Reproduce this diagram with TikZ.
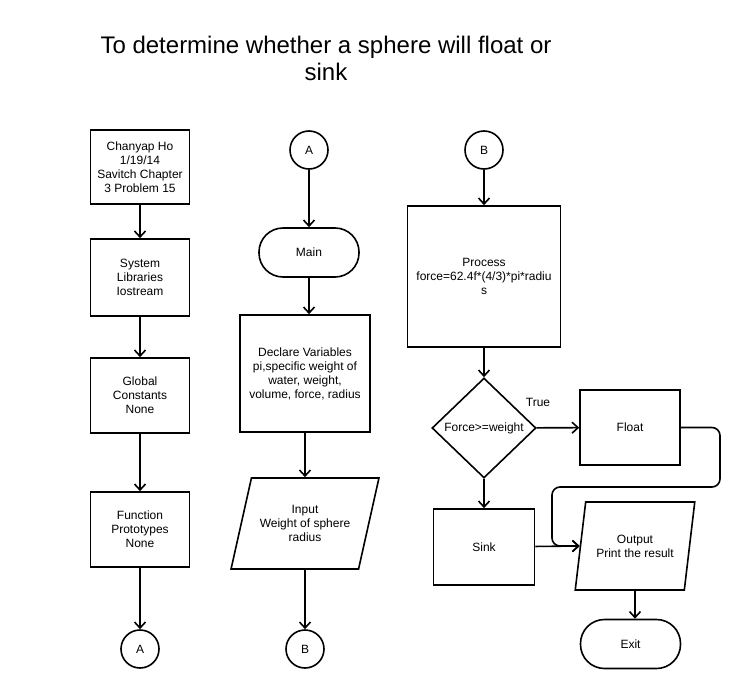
\documentclass[tikz,border=0pt]{standalone}
\usepackage{fontspec}
\setmainfont{Liberation Sans}
\usetikzlibrary{shapes.geometric,arrows.meta}
\tikzset{
  box/.style={draw, line width=1.6pt, align=center, inner sep=2pt,
    font=\fontsize{12}{14}\selectfont},
  proc/.style={box, minimum width=#1},
  term/.style={box, rounded corners=24pt, minimum width=100pt, minimum height=49pt},
  conn/.style={box, circle, minimum size=38pt, inner sep=0pt},
  io/.style={box, trapezium, trapezium stretches=true},
  decision/.style={box, diamond, minimum width=104pt, minimum height=100pt, inner sep=1pt},
  line/.style={line width=1.6pt, -{Straight Barb[length=6pt,width=11pt]},
    every edge/.append style={line width=1.6pt}}
}
\begin{document}
\begin{tikzpicture}[x=1pt, y=-1pt]
\useasboundingbox (0,0) rectangle (744,690);
\node[align=center, font=\fontsize{24}{27}\selectfont] at (326,58) (title)
  {To determine whether a sphere will float or\\sink};
% left column
\node[proc=99pt, minimum height=74pt] at (140,167) (head)
  {Chanyap Ho\\1/19/14\\Savitch Chapter\\3 Problem 15};
\node[proc=99pt, minimum height=77pt] at (140,277.5) (libs) {System\\Libraries\\Iostream};
\node[proc=99pt, minimum height=75pt] at (140,395.5) (glob) {Global\\Constants\\None};
\node[proc=99pt, minimum height=75pt] at (140,529.5) (func) {Function\\Prototypes\\None};
\node[conn] at (140,649) (outa) {A};
% middle column
\node[conn] at (309,150) (ina) {A};
\node[term] at (309,252.5) (main) {Main};
\node[proc=130pt, minimum height=117pt] at (305,373.5) (decl)
  {Declare Variables\\pi,specific weight of\\water, weight,\\volume, force, radius};
\node[io, minimum width=148pt, minimum height=91pt,
  trapezium left angle=66, trapezium right angle=114] at (305,523.5) (inp)
  {Input\\Weight of sphere\\radius};
\node[conn] at (305,649) (outb) {B};
% right column
\node[conn] at (484,150) (inb) {B};
\node[proc=153pt, minimum height=141pt] at (484,276.5) (calc)
  {Process\\force=62.4f*(4/3)*pi*radiu\\s};
\node[decision] at (484,428) (test) {Force>=weight};
\node[font=\fontsize{12}{14}\selectfont] at (538,402) (true) {True};
\node[proc=100pt, minimum height=75pt] at (630,427.5) (flt) {Float};
\node[proc=101pt, minimum height=76pt] at (484,547) (snk) {Sink};
\node[io, minimum width=120pt, minimum height=88pt,
  trapezium left angle=72, trapezium right angle=108] at (635,546) (outp)
  {Output\\Print the result};
\node[term] at (630.5,644) (exit) {Exit};
\coordinate (r1) at (720,487);
\coordinate (r2) at (552,487);
\path[line] (head) edge (libs)
            (libs) edge (glob)
            (glob) edge (func)
            (func) edge (outa)
            (ina) edge (main)
            (decl) edge (inp)
            (inp) edge (outb)
            (inb) edge (calc)
            (calc) edge (test)
            (test) edge (flt)
            (test) edge (snk)
            (snk) edge (outp.west)
            (outp.south) edge (outp.south |- exit.north);
\draw[line] (main.south) -- (main.south |- decl.north);
\draw[line, rounded corners=8pt] (flt.east) -| (r1) -- (r2) |- (outp.west);
\end{tikzpicture}
\end{document}
